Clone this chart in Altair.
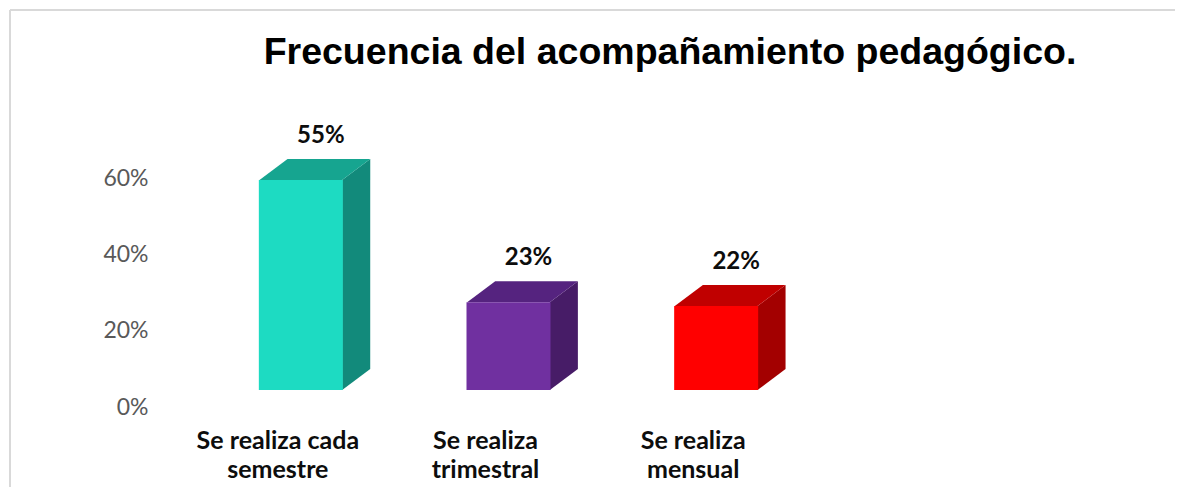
import altair as alt
import pandas as pd

# ---- data ----
title_text = "Frecuencia del acompañamiento pedagógico."
categories = ["Se realiza cada semestre", "Se realiza trimestral", "Se realiza mensual"]
label_line1 = ["Se realiza cada", "Se realiza", "Se realiza"]
label_line2 = ["semestre", "trimestral", "mensual"]
values = [0.55, 0.23, 0.22]
value_labels = ["55%", "23%", "22%"]
front_colors = ["#1DDBC2", "#7030A0", "#FF0000"]
top_colors = ["#16A590", "#55237F", "#C00000"]
side_colors = ["#128A7B", "#471C67", "#A30000"]
y_ticks = [0, 0.2, 0.4, 0.6]

# ---- layout / style ----
W, H = 633, 229
Y_MAX = 0.6
N = len(categories)
PX_X = W / N          # pixels per category unit
PX_Y = H / Y_MAX      # pixels per value unit
BAR_W = 84
DEPTH_X = 28.5
DEPTH_Y = 21
LIFT = -17            # floor of the 3D bars sits above the 0% label
hw = BAR_W / 2 / PX_X
dxd = DEPTH_X / PX_X
dyd = DEPTH_Y / PX_Y

pos = [i + 0.5 for i in range(N)]

base = pd.DataFrame({
    "cat": categories,
    "pos": pos,
    "value": values,
    "zero": [0.0] * N,
    "label": value_labels,
    "text": [a + "\n" + b for a, b in zip(label_line1, label_line2)],
    "front": front_colors,
})

side_rows, top_rows = [], []
for c, p, v, sc, tc in zip(categories, pos, values, side_colors, top_colors):
    side_rows.append({"cat": c, "x": p + hw, "lo": 0.0, "hi": v, "color": sc})
    side_rows.append({"cat": c, "x": p + hw + dxd, "lo": dyd, "hi": v + dyd, "color": sc})
    top_rows.append({"cat": c, "y": v, "xl": p - hw, "xr": p + hw, "color": tc})
    top_rows.append({"cat": c, "y": v + dyd, "xl": p - hw + dxd, "xr": p + hw + dxd, "color": tc})
side = pd.DataFrame(side_rows)
top = pd.DataFrame(top_rows)

x_scale = alt.Scale(domain=[0, N], nice=False, zero=False)
y_scale = alt.Scale(domain=[0, Y_MAX], nice=False)
y_axis = alt.Axis(values=y_ticks, format=".0%", title=None, grid=False, domain=False,
                  ticks=False, labelPadding=44, labelFont="Lato", labelFontSize=23,
                  labelColor="#595959")

front = alt.Chart(base).mark_bar(size=BAR_W, yOffset=LIFT, y2Offset=LIFT).encode(
    x=alt.X("pos:Q", scale=x_scale, axis=None),
    y=alt.Y("value:Q", scale=y_scale, axis=y_axis, stack=None),
    y2="zero:Q",
    color=alt.Color("front:N", scale=None),
)

side_face = alt.Chart(side).mark_area(yOffset=LIFT, y2Offset=LIFT).encode(
    x=alt.X("x:Q", scale=x_scale, axis=None),
    y=alt.Y("hi:Q", scale=y_scale, axis=y_axis, stack=None),
    y2="lo:Q",
    color=alt.Color("color:N", scale=None),
    detail="cat:N",
)

top_face = alt.Chart(top).mark_area(orient="horizontal", yOffset=LIFT).encode(
    y=alt.Y("y:Q", scale=y_scale, axis=y_axis, stack=None),
    x=alt.X("xl:Q", scale=x_scale, axis=None, stack=None),
    x2="xr:Q",
    color=alt.Color("color:N", scale=None),
    detail="cat:N",
)

value_text = alt.Chart(base).mark_text(
    font="Lato", fontWeight="bold", fontSize=24, color="#0D0D0D",
    baseline="alphabetic", align="center", dx=20, dy=-54,
).encode(
    x=alt.X("pos:Q", scale=x_scale, axis=None),
    y=alt.Y("value:Q", scale=y_scale, axis=y_axis),
    text="label:N",
)

cat_text = alt.Chart(base).mark_text(
    font="Lato", fontWeight="bold", fontSize=25, color="#0D0D0D",
    baseline="alphabetic", align="center", dx=-23, dy=42,
    lineBreak="\n", lineHeight=29,
).encode(
    x=alt.X("pos:Q", scale=x_scale, axis=None),
    y=alt.Y("zero:Q", scale=y_scale, axis=y_axis),
    text="text:N",
)

one = pd.DataFrame({"t": [title_text]})
title_mark = alt.Chart(one).mark_text(
    font="Liberation Sans", fontWeight="bold", fontSize=37.5, color="#000000",
    baseline="alphabetic", align="center",
).encode(x=alt.value(478), y=alt.value(-114), text="t:N")

frame_top = alt.Chart(one).mark_rule(color="#D9D9D9", strokeWidth=2).encode(
    x=alt.value(-182), x2=alt.value(1000), y=alt.value(-168)
)
frame_left = alt.Chart(one).mark_rule(color="#D9D9D9", strokeWidth=2).encode(
    x=alt.value(-182), y=alt.value(-168), y2=alt.value(330)
)

chart = alt.layer(
    frame_top, frame_left, title_mark, side_face, top_face, front, value_text, cat_text
).properties(
    width=W,
    height=H,
    background="#FFFFFF",
    autosize=alt.AutoSizeParams(type="none"),
    padding={"left": 184, "top": 170, "right": 350, "bottom": 80},
).configure_view(strokeWidth=0, stroke="transparent")

chart.save("out.html", embed_options={"renderer": "svg", "actions": False})
